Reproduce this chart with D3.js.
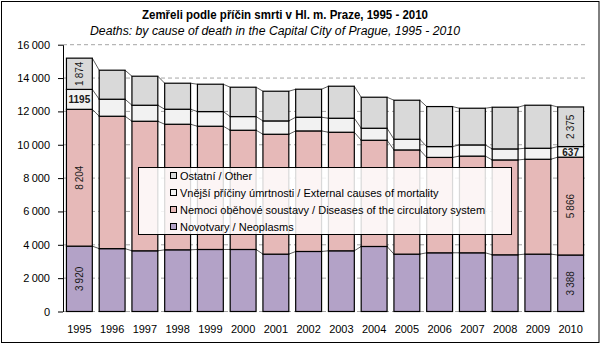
<!DOCTYPE html>
<html><head><meta charset="utf-8">
<script src="https://cdn.jsdelivr.net/npm/d3@7"></script>
<style>body{margin:0;background:#fff}svg{display:block;font-family:"Liberation Sans",Arial,sans-serif}</style>
</head><body><svg id="c" width="602" height="345"></svg>
<script>
const years = ["1995","1996","1997","1998","1999","2000","2001","2002","2003","2004","2005","2006","2007","2008","2009","2010"];
const neoplasms   = [3920,3770,3640,3700,3720,3720,3440,3600,3640,3900,3440,3520,3520,3400,3440,3388];
const circulatory = [8204,7940,7770,7530,7390,7150,7190,7230,7110,6370,6250,5720,5800,5690,5690,5866];
const external    = [1195,1020,960,900,880,820,800,820,840,720,640,650,670,660,660,637];
const other       = [1874,1740,1740,1560,1640,1760,1780,1680,1920,1860,2340,2400,2200,2500,2580,2375];
const seriesNames = ["Novotvary / Neoplasms","Nemoci oběhové soustavy / Diseases of the circulatory system","Vnější příčiny úmrtnosti / External causes of mortality","Ostatní / Other"];
const seriesColors = ["#b3a2c7","#e6b9b8","#f2f2f2","#d9d9d9"];
const yTicks = [0,2000,4000,6000,8000,10000,12000,14000,16000];
const titleCz = "Zemřeli podle příčin smrti v Hl. m. Praze, 1995 - 2010";
const titleEn = "Deaths: by cause of death in the Capital City of Prague, 1995 - 2010";

const svg = d3.select("#c");
svg.append("rect").attr("x",1.5).attr("y",1.5).attr("width",597.5).attr("height",341).attr("fill","#fff").attr("stroke","#000").attr("stroke-width",1);

const L=63, R=587, T=44.7, B=311.5;
const x = d3.scaleBand().domain(years).range([L,R]).paddingInner(0.21).paddingOuter(0.105);
const y = d3.scaleLinear().domain([0,16000]).range([B,T]);
const fmt = v => d3.format(",")(v).replace(/,/g,"\u2009");

// gridlines
svg.append("g").selectAll("line").data(yTicks).join("line")
  .attr("x1",L).attr("x2",R).attr("y1",d=>y(d)).attr("y2",d=>y(d))
  .attr("stroke","#a6a6a6").attr("stroke-dasharray","4,3").attr("stroke-width",1);

// y axis
const ya = svg.append("g").attr("transform",`translate(${L},0)`)
  .call(d3.axisLeft(y).tickValues(yTicks).tickSize(5).tickSizeOuter(0).tickPadding(8).tickFormat(fmt));
ya.select(".domain").attr("stroke","#000");
ya.selectAll("text").attr("font-size",11).attr("fill","#000").attr("font-family","Liberation Sans, Arial");

// x labels
svg.append("g").selectAll("text").data(years).join("text")
  .attr("x",d=>x(d)+x.bandwidth()/2).attr("y",333).attr("text-anchor","middle")
  .attr("font-size",11).text(d=>d);

// stack
const rows = years.map((yr,i)=>({year:yr,s0:neoplasms[i],s1:circulatory[i],s2:external[i],s3:other[i]}));
const stack = d3.stack().keys(["s0","s1","s2","s3"])(rows);

// series lines
const slg = svg.append("g");
stack.forEach(layer=>{
  for(let i=0;i<years.length-1;i++){
    slg.append("line")
      .attr("x1",x(years[i])+x.bandwidth()).attr("y1",y(layer[i][1]))
      .attr("x2",x(years[i+1])).attr("y2",y(layer[i+1][1]))
      .attr("stroke","#333").attr("stroke-width",0.8);
  }
});

// bars
stack.forEach((layer,k)=>{
  svg.append("g").selectAll("rect").data(layer).join("rect")
    .attr("x",d=>x(d.data.year)).attr("width",x.bandwidth())
    .attr("y",d=>y(d[1])).attr("height",d=>y(d[0])-y(d[1]))
    .attr("fill",seriesColors[k]).attr("stroke","#000").attr("stroke-width",1.2);
});

// value labels for first and last year
[0,years.length-1].forEach(i=>{
  stack.forEach((layer,k)=>{
    const d = layer[i];
    const cx = x(years[i])+x.bandwidth()/2, cy = (y(d[0])+y(d[1]))/2;
    const v = d[1]-d[0];
    if(k===2){
      svg.append("text").attr("x",cx).attr("y",cy+4).attr("text-anchor","middle")
        .attr("font-size",10).attr("font-weight","bold").attr("fill","#1a1a1a").text(v);
    } else {
      svg.append("text").attr("transform",`translate(${cx+3.5},${cy}) rotate(-90)`)
        .attr("text-anchor","middle").attr("font-size",10).attr("fill","#1a1a1a").text(fmt(v));
    }
  });
});

// legend
const lg = svg.append("g");
lg.append("rect").attr("x",138.5).attr("y",167.5).attr("width",373).attr("height",67)
  .attr("fill","#fff").attr("fill-opacity",0.85).attr("stroke","#000").attr("stroke-width",1);
const order=[3,2,1,0], rowsY=[176,193,210,227];
order.forEach((k,j)=>{
  lg.append("rect").attr("x",170.5).attr("y",rowsY[j]-3.5).attr("width",6).attr("height",6)
    .attr("fill",seriesColors[k]).attr("stroke","#000").attr("stroke-width",1);
  lg.append("text").attr("x",180).attr("y",rowsY[j]+4).attr("font-size",11).attr("fill","#000").text(seriesNames[k]);
});

// titles
svg.append("text").attr("x",142).attr("y",19).attr("font-size",13).attr("font-weight","bold")
  .attr("textLength",286).attr("lengthAdjust","spacingAndGlyphs").text(titleCz);
svg.append("text").attr("x",90).attr("y",35).attr("font-size",12).attr("font-style","italic")
  .attr("textLength",370).attr("lengthAdjust","spacingAndGlyphs").text(titleEn);
</script></body></html>
